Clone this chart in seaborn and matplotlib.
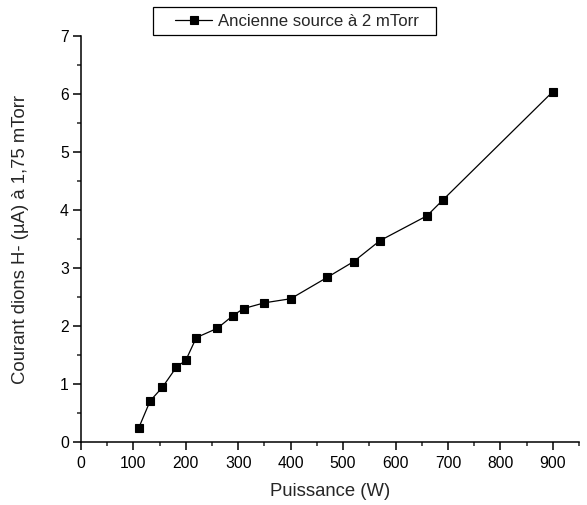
import matplotlib
matplotlib.use("Agg")
import matplotlib.pyplot as plt
import seaborn as sns
import pandas as pd
from matplotlib.ticker import MultipleLocator
from matplotlib.patches import Rectangle

# Data
puissance = [110, 132, 155, 182, 200, 220, 260, 290, 310, 350, 400, 470, 520, 570, 660, 690, 900]
courant = [0.24, 0.71, 0.94, 1.29, 1.41, 1.80, 1.96, 2.18, 2.30, 2.40, 2.47, 2.84, 3.11, 3.47, 3.90, 4.17, 6.04]
series_label = "Ancienne source à 2 mTorr"

df = pd.DataFrame({"Puissance": puissance, "Courant": courant})

sns.set_style("ticks")
plt.rcParams['font.family'] = ['Liberation Sans', 'DejaVu Sans']

W, H = 587, 505
fig = plt.figure(figsize=(W / 100, H / 100), dpi=100)
ax = fig.add_axes([81 / W, 1 - 442 / H, 498 / W, 406 / H])

sns.lineplot(data=df, x="Puissance", y="Courant", ax=ax, color="black",
             linewidth=0.9, marker="s", markersize=5.6, markeredgecolor="black",
             markeredgewidth=0.8, label=series_label)

ax.set_xlim(0, 950)
ax.set_ylim(0, 7)
ax.xaxis.set_major_locator(MultipleLocator(100))
ax.xaxis.set_minor_locator(MultipleLocator(50))
ax.yaxis.set_major_locator(MultipleLocator(1))
ax.yaxis.set_minor_locator(MultipleLocator(0.5))

for side in ["top", "right"]:
    ax.spines[side].set_visible(False)
for side in ["left", "bottom"]:
    ax.spines[side].set_linewidth(1.1)
    ax.spines[side].set_color("black")

ax.tick_params(which="major", direction="out", length=5.5, width=1.1, labelsize=11.3, colors="black")
ax.tick_params(which="minor", direction="out", length=3.2, width=1.1)
ax.tick_params(axis="x", which="major", pad=4.5)
ax.tick_params(axis="y", which="major", pad=3.3)

ax.set_xlabel("Puissance (W)", fontsize=13.3)
ax.set_ylabel("Courant dions H- (µA) à 1,75 mTorr", fontsize=13.3)
ax.xaxis.set_label_coords(0.5, -0.101)
ax.yaxis.set_label_coords(-0.104, 0.5)

# legend box sits above the plot area
leg = ax.legend(loc="center left", fontsize=12.1, frameon=False, borderpad=0,
                handlelength=2.16, handletextpad=0.36)
leg.set_bbox_to_anchor((167 / W, 1 - 21 / H), transform=fig.transFigure)
fig.patches.append(Rectangle((153 / W, 1 - 35 / H), 283 / W, 28 / H,
                             transform=fig.transFigure, fill=False,
                             edgecolor="black", linewidth=0.9))

fig.savefig("out.png", dpi=100)
